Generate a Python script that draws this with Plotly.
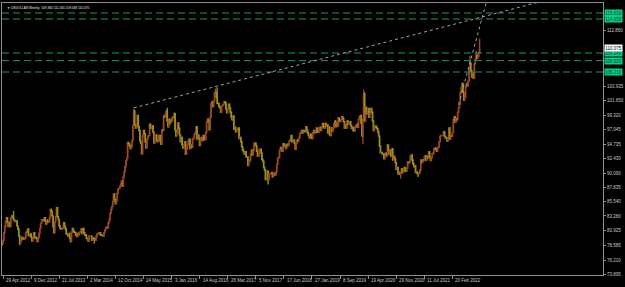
import plotly.graph_objects as go
import pandas as pd

# ---------------- data (weekly closes) ----------------
start_week = "2012-04-22"
first_open = 78.6

closes_2012 = [78.9, 79.4, 80.6, 81.6, 82.4, 83.0, 82.3, 81.6, 82.3, 81.6, 83.0, 83.3, 83.1,
               82.7, 82.5, 82.4, 82.5, 81.7, 81.2, 80.1, 79.0, 79.3, 79.9, 79.6, 79.8, 79.6,
               79.8, 80.6, 80.9, 81.2, 80.2, 80.1, 80.4, 79.9, 79.3, 79.7, 80.6]
closes_2013 = [79.8, 79.9, 79.7, 79.2, 79.8, 80.5, 81.3, 82.1, 82.7, 82.7, 82.5, 83.0, 82.5,
               82.0, 82.6, 82.3, 82.3, 83.0, 84.3, 84.0, 83.3, 81.6, 80.6, 82.3, 83.2, 84.6,
               83.2, 82.7, 81.7, 81.3, 81.2, 81.2, 81.4, 82.2, 81.6, 81.2, 80.4, 80.4, 80.1,
               80.5, 79.7, 79.2, 80.7, 81.3, 80.9, 80.7, 80.6, 80.2, 80.0, 80.5, 80.3, 80.7]
closes_2014 = [80.7, 81.2, 80.5, 81.3, 80.6, 80.3, 80.2, 79.7, 79.7, 79.3, 80.1, 80.1, 80.1,
               79.4, 79.8, 79.7, 79.5, 79.4, 80.0, 80.4, 80.4, 80.6, 80.6, 80.3, 80.2, 80.2,
               80.1, 80.6, 81.0, 81.4, 81.5, 81.4, 82.2, 82.7, 83.7, 84.3, 84.8, 85.6, 86.8,
               85.9, 85.2, 85.7, 86.9, 87.6, 87.6, 88.0, 88.4, 88.8, 88.0, 89.5, 90.3, 91.1]
closes_2015 = [92.1, 92.5, 95.0, 94.8, 94.5, 94.0, 94.3, 95.3, 97.7, 100.0, 97.8, 97.3, 97.6,
               99.3, 97.5, 96.9, 95.2, 94.8, 93.2, 96.0, 96.9, 96.4, 95.1, 94.1, 95.5, 96.0,
               96.1, 97.9, 97.2, 97.3, 97.6, 96.6, 94.9, 96.2, 96.2, 95.3, 95.1, 96.1, 96.1,
               95.2, 94.7, 97.0, 96.9, 99.2, 99.0, 99.6, 100.0, 98.4, 97.5, 98.7, 98.0, 98.6]
closes_2016 = [98.4, 99.0, 98.9, 99.6, 97.0, 96.0, 96.6, 98.1, 97.3, 96.2, 95.1, 95.8, 94.6,
               94.1, 94.6, 95.1, 93.1, 93.9, 94.6, 95.3, 95.5, 94.0, 94.6, 94.2, 95.5, 95.7,
               96.3, 96.6, 97.5, 95.5, 96.2, 95.7, 94.5, 95.5, 95.8, 95.3, 96.1, 95.4, 95.4,
               96.6, 98.2, 98.7, 98.4, 97.0, 99.0, 101.2, 101.5, 100.7, 101.6, 102.9, 103.0, 102.2]
closes_2017 = [101.2, 101.2, 100.7, 100.5, 99.8, 100.8, 100.9, 101.1, 101.5, 101.3, 100.3,
               99.7, 100.3, 101.1, 100.5, 99.8, 99.0, 98.6, 99.2, 97.1, 97.4, 96.7, 96.9, 97.2,
               97.3, 95.6, 95.8, 95.1, 94.3, 93.8, 93.5, 93.1, 93.5, 92.7, 92.7, 91.3, 91.9,
               92.2, 93.1, 93.8, 93.0, 93.7, 94.9, 94.9, 94.5, 93.6, 92.8, 92.9, 93.9, 93.9,
               93.3, 92.3, 92.0]
closes_2018 = [91.0, 90.6, 89.1, 89.1, 90.4, 89.1, 89.9, 89.9, 90.1, 90.2, 89.5, 90.1, 90.1,
               89.8, 90.3, 91.5, 92.5, 92.6, 93.7, 94.2, 94.1, 93.6, 94.8, 94.4, 94.6, 94.0,
               94.7, 94.4, 94.6, 95.2, 95.4, 96.1, 95.1, 95.1, 95.4, 94.9, 93.9, 94.9, 95.4,
               95.2, 95.7, 96.4, 96.6, 96.9, 96.5, 96.9, 96.8, 96.7, 97.5, 96.9, 96.5, 96.1]
closes_2019 = [95.7, 96.3, 95.8, 95.6, 96.6, 96.9, 96.5, 96.6, 97.3, 96.6, 96.6, 97.3, 97.4,
               96.9, 97.4, 98.0, 97.5, 97.3, 98.0, 97.6, 97.8, 96.5, 97.5, 96.2, 96.1, 97.3,
               96.8, 97.2, 98.0, 98.4, 97.5, 98.1, 97.6, 98.9, 98.4, 98.3, 98.6, 99.1, 98.8,
               98.3, 97.3, 97.8, 97.3, 98.4, 97.9, 98.2, 98.3, 97.7, 97.2, 97.4, 96.9, 96.8]
closes_2020 = [97.4, 97.6, 97.9, 97.4, 98.7, 99.1, 99.3, 98.1, 96.0, 98.7, 102.8, 98.4, 100.6,
               99.5, 99.7, 100.4, 99.0, 99.7, 100.4, 99.8, 98.4, 96.9, 97.3, 97.6, 97.4, 97.2,
               96.7, 96.0, 94.4, 93.4, 93.4, 93.1, 93.2, 92.4, 92.7, 93.3, 92.9, 94.6, 93.8,
               93.1, 93.7, 92.8, 94.0, 92.2, 92.8, 92.4, 91.8, 90.7, 91.0, 90.0, 90.2, 89.9]
closes_2021 = [90.1, 90.8, 90.2, 90.4, 91.0, 90.5, 90.4, 90.9, 91.9, 91.7, 91.9, 92.8, 93.0,
               92.2, 91.6, 91.1, 91.3, 90.2, 90.3, 90.0, 90.0, 90.1, 90.6, 92.2, 91.8, 92.2,
               92.1, 92.7, 92.9, 92.2, 92.8, 92.5, 93.5, 92.7, 92.1, 92.6, 93.2, 93.3, 94.0,
               94.1, 93.9, 93.6, 94.1, 94.3, 95.1, 96.0, 96.1, 96.1, 96.1, 96.7, 96.0, 95.7]
closes_2022 = [95.7, 95.2, 95.6, 97.3, 95.5, 96.1, 96.0, 96.6, 98.6, 99.1, 98.2, 98.8, 98.6,
               99.8, 100.5, 101.1, 103.0, 103.7, 104.4, 103.0, 101.7, 102.2, 103.9, 104.4,
               104.0, 104.8, 106.4, 107.6, 106.4, 105.4, 106.0, 105.2, 107.5, 108.2, 108.9,
               108.4, 108.7, 109.36, 110.075]

high_marks = {"2012-07-22": 84.1, "2013-07-07": 84.75, "2015-03-08": 100.4,
              "2015-11-29": 100.5, "2016-12-18": 103.6, "2017-01-01": 103.8,
              "2020-03-15": 103.4, "2022-07-10": 108.8, "2022-08-28": 109.5,
              "2022-09-25": 111.565}
low_marks = {"2012-09-09": 78.6, "2014-04-27": 78.9, "2018-02-11": 88.3,
             "2020-03-08": 94.7, "2021-01-03": 89.2, "2021-05-23": 89.5,
             "2022-09-25": 109.068}

levels = [115.61, 114.65, 109.24, 108.02, 106.21]

ytick_vals = [73.895, 76.210, 78.585, 80.925, 83.280, 85.540, 87.835, 90.090, 92.430,
              94.735, 97.045, 99.320, 101.650, 103.935, 112.860]
ytick_text = ["73.895", "76.210", "78.585", "80.925", "83.280", "85.540", "87.835", "90.090",
              "92.430", "94.735", "97.045", "99.320", "101.650", "103.935", "112.860"]

xtick_dates = ["2012-04-29", "2012-12-09", "2013-07-21", "2014-03-02", "2014-10-12",
               "2015-05-24", "2016-01-03", "2016-08-14", "2017-03-26", "2017-11-05",
               "2018-06-17", "2019-01-27", "2019-09-08", "2020-04-19", "2020-11-29",
               "2021-07-11", "2022-02-20"]
xtick_text = ["29 Apr 2012", "9 Dec 2012", "21 Jul 2013", "2 Mar 2014", "12 Oct 2014",
              "24 May 2015", "3 Jan 2016", "14 Aug 2016", "26 Mar 2017", "5 Nov 2017",
              "17 Jun 2018", "27 Jan 2019", "8 Sep 2019", "19 Apr 2020", "29 Nov 2020",
              "11 Jul 2021", "20 Feb 2022"]

trend1 = (["2015-03-08", "2024-02-11"], [100.5, 117.5])
trend2 = (["2022-04-10", "2022-11-27"], [101.0, 118.0])

# ---------------- build OHLC ----------------
closes = (closes_2012 + closes_2013 + closes_2014 + closes_2015 + closes_2016 + closes_2017
          + closes_2018 + closes_2019 + closes_2020 + closes_2021 + closes_2022)
dates = pd.date_range(start_week, periods=len(closes), freq="7D")
opens = [first_open] + closes[:-1]
highs = [max(o, c) for o, c in zip(opens, closes)]
lows = [min(o, c) for o, c in zip(opens, closes)]
dstr = [d.strftime("%Y-%m-%d") for d in dates]
for k, v in high_marks.items():
    if k in dstr:
        i = dstr.index(k)
        highs[i] = max(highs[i], v)
for k, v in low_marks.items():
    if k in dstr:
        i = dstr.index(k)
        lows[i] = min(lows[i], v)

UP = "#9c4428"
DOWN = "#98921a"
FONT = "Liberation Sans"

fig = go.Figure()
fig.add_trace(go.Candlestick(
    x=dates, open=opens, high=highs, low=lows, close=closes,
    increasing=dict(line=dict(color=UP, width=1.4), fillcolor=UP),
    decreasing=dict(line=dict(color=DOWN, width=1.4), fillcolor=DOWN),
    whiskerwidth=0, showlegend=False, hoverinfo="skip"))

shapes = []
for lv in levels:
    shapes.append(dict(type="line", xref="paper", x0=0, x1=1, yref="y", y0=lv, y1=lv,
                       line=dict(color="#169a74", width=1, dash="7px,4px"), layer="above"))
for tx, ty in (trend1, trend2):
    shapes.append(dict(type="line", xref="x", yref="y", x0=tx[0], x1=tx[1], y0=ty[0], y1=ty[1],
                       line=dict(color="#a0a0a0", width=1, dash="dot"), layer="above"))

annotations = []
for d, t in zip(xtick_dates, xtick_text):
    annotations.append(dict(x=d, xref="x", y=0, yref="paper", yanchor="top", xanchor="left",
                            xshift=1, yshift=-1, text=t, showarrow=False,
                            font=dict(family=FONT, size=4.5, color="#c8c8c8")))
for lv in levels:
    annotations.append(dict(x=1, xref="paper", y=lv, yref="y", xanchor="left", yanchor="middle",
                            xshift=1, text=f"{lv:.3f}", showarrow=False, bgcolor="#00d48a",
                            borderpad=0.5, width=16,
                            font=dict(family=FONT, size=4.5, color="#003020")))
annotations.append(dict(x=1, xref="paper", y=closes[-1], yref="y", xanchor="left",
                        yanchor="middle", xshift=1, text=f"{closes[-1]:.3f}", showarrow=False,
                        bgcolor="#ffffff", borderpad=0.5, width=16,
                        font=dict(family=FONT, size=4.5, color="#000000")))
annotations.append(dict(x=0, xref="paper", y=1, yref="paper", xanchor="left", yanchor="top",
                        xshift=3, yshift=-1,
                        text=f"▼ USDOLLAR,Weekly  {opens[-1]:.3f} {highs[-1]:.3f} {lows[-1]:.3f} {closes[-1]:.3f}",
                        showarrow=False, font=dict(family=FONT, size=3.2, color="#e6e6e6")))

fig.update_layout(
    width=625, height=287, margin=dict(l=1, r=18, t=3, b=12),
    paper_bgcolor="#000000", plot_bgcolor="#000000",
    shapes=shapes, annotations=annotations, showlegend=False,
    xaxis=dict(type="date", range=["2012-04-21", "2025-06-05"], rangeslider=dict(visible=False),
               tickvals=xtick_dates, showticklabels=False, ticks="outside", ticklen=3,
               tickcolor="#909090", showline=True, linecolor="#909090", mirror=True,
               showgrid=False, zeroline=False),
    yaxis=dict(side="right", range=[73.88, 117.2], tickvals=ytick_vals, ticktext=ytick_text,
               ticks="outside", ticklen=2, tickcolor="#909090",
               tickfont=dict(family=FONT, size=4.5, color="#c8c8c8"),
               showline=True, linecolor="#909090", mirror=True, showgrid=False,
               zeroline=False),
)

fig.write_html("out.html")
